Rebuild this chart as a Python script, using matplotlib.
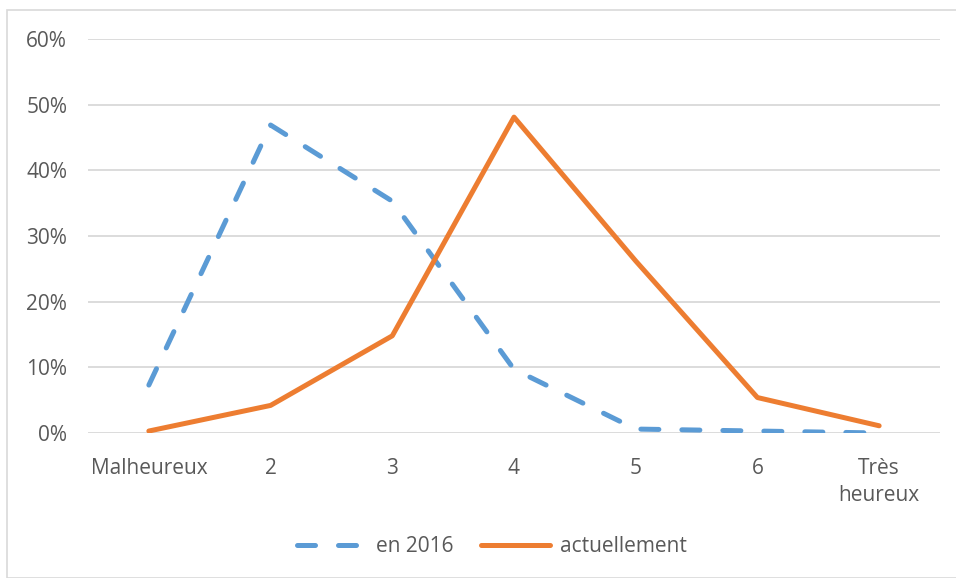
import matplotlib.pyplot as plt
from matplotlib.patches import Rectangle

categories = ['Malheureux', '2', '3', '4', '5', '6', 'Très\nheureux']
en_2016 = [0.073, 0.469, 0.353, 0.097, 0.006, 0.003, 0.0]
actuellement = [0.003, 0.042, 0.148, 0.481, 0.262, 0.054, 0.011]
yticks = [0, 0.1, 0.2, 0.3, 0.4, 0.5, 0.6]
ylabels = ['0%', '10%', '20%', '30%', '40%', '50%', '60%']

plt.rcParams['font.family'] = ['Open Sans', 'DejaVu Sans']
text_color = '#595959'

fig = plt.figure(figsize=(9.56, 5.78), dpi=100)
ax = fig.add_axes([88 / 956, 1 - 433 / 578, (940 - 88) / 956, (433 - 39) / 578])

x = list(range(len(categories)))
ax.plot(x, en_2016, color='#5b9bd5', lw=3.6, dashes=(3.6, 4.6),
        dash_capstyle='round', solid_joinstyle='round', label='en 2016', zorder=3)
ax.plot(x, actuellement, color='#ed7d31', lw=3.6, solid_capstyle='round',
        solid_joinstyle='round', label='actuellement', zorder=3)

ax.set_xlim(-0.5, 6.5)
ax.set_ylim(0, 0.6)
ax.set_yticks(yticks)
ax.set_yticklabels(ylabels)
ax.set_xticks(x)
ax.set_xticklabels(categories, linespacing=1.35, va='top')
ax.tick_params(length=0, labelsize=15, colors=text_color)
ax.tick_params(axis='y', pad=15)
ax.tick_params(axis='x', pad=18)
ax.grid(axis='y', color='#d9d9d9', lw=1.3)
ax.set_axisbelow(True)
for s in ax.spines.values():
    s.set_visible(False)

leg = fig.legend(loc='center', bbox_to_anchor=(492 / 956, 1 - 547 / 578), ncol=2,
                 frameon=False, fontsize=15, handlelength=3.3, columnspacing=1.3,
                 handletextpad=0.5)
for t in leg.get_texts():
    t.set_color(text_color)

fig.patches.append(Rectangle((7 / 956, 0), 1.5, 1 - 10 / 578, transform=fig.transFigure,
                             fill=False, edgecolor='#d9d9d9', lw=1.2))

fig.savefig('out.png', dpi=100)
